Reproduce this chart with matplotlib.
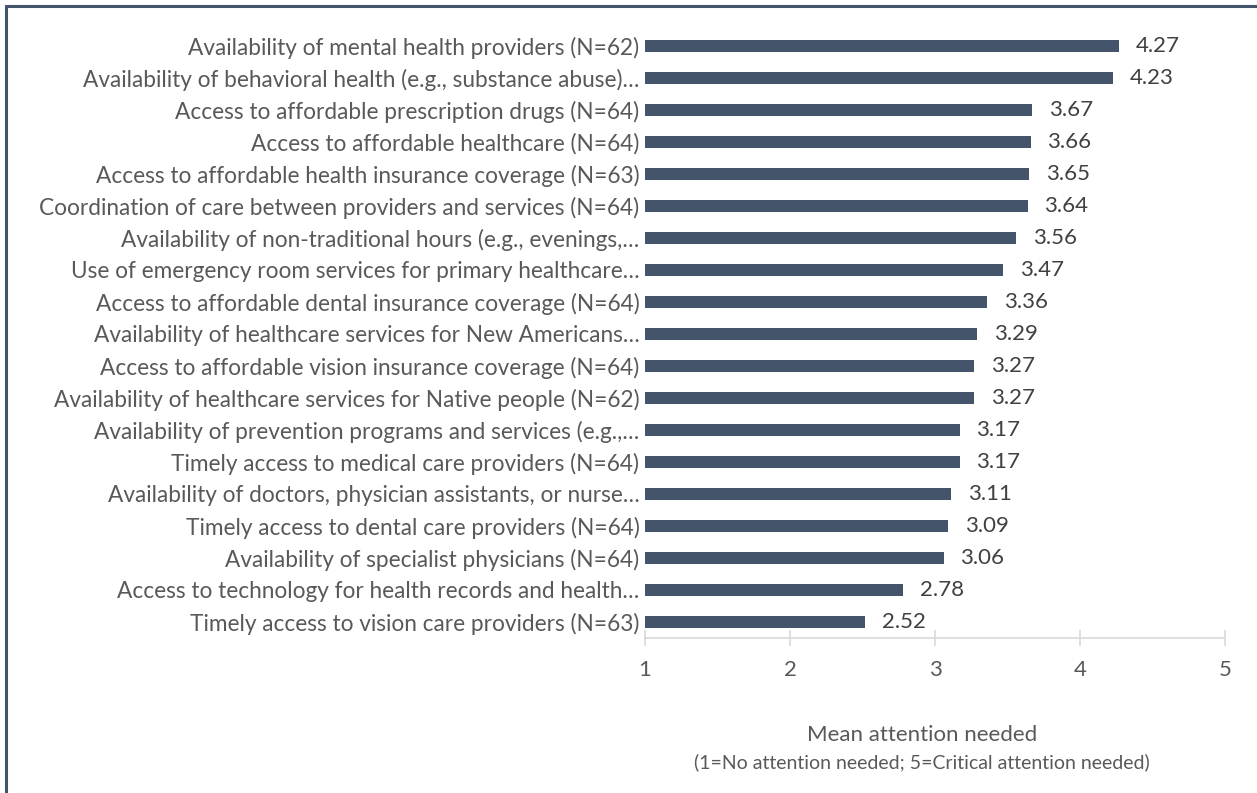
import matplotlib
matplotlib.use("Agg")
import matplotlib.pyplot as plt
from matplotlib.patches import Rectangle

categories = [
    "Availability of mental health providers (N=62)",
    "Availability of behavioral health (e.g., substance abuse)\u2026",
    "Access to affordable prescription drugs (N=64)",
    "Access to affordable healthcare (N=64)",
    "Access to affordable health insurance coverage (N=63)",
    "Coordination of care between providers and services (N=64)",
    "Availability of non-traditional hours (e.g., evenings,\u2026",
    "Use of emergency room services for primary healthcare\u2026",
    "Access to affordable dental insurance coverage (N=64)",
    "Availability of healthcare services for New Americans\u2026",
    "Access to affordable vision insurance coverage (N=64)",
    "Availability of healthcare services for Native people (N=62)",
    "Availability of prevention programs and services (e.g.,\u2026",
    "Timely access to medical care providers (N=64)",
    "Availability of doctors, physician assistants, or nurse\u2026",
    "Timely access to dental care providers (N=64)",
    "Availability of specialist physicians (N=64)",
    "Access to technology for health records and health\u2026",
    "Timely access to vision care providers (N=63)",
]
values = [4.27, 4.23, 3.67, 3.66, 3.65, 3.64, 3.56, 3.47, 3.36, 3.29,
          3.27, 3.27, 3.17, 3.17, 3.11, 3.09, 3.06, 2.78, 2.52]
x_ticks = [1, 2, 3, 4, 5]
x_title = "Mean attention needed"
x_subtitle = "(1=No attention needed; 5=Critical attention needed)"

plt.rcParams['font.family'] = ['Lato', 'DejaVu Sans']

W, H = 1257, 793
fig = plt.figure(figsize=(W / 100, H / 100), dpi=100)
ax = fig.add_axes([645 / W, 1 - 638 / H, (1225 - 645) / W, (638 - 30) / H])

bar_color = "#44546A"
label_color = "#595959"
val_color = "#404040"

ypos = list(range(len(categories)))
ax.barh(ypos, [v - x_ticks[0] for v in values], left=x_ticks[0],
        height=0.38, color=bar_color)
for y, v in zip(ypos, values):
    ax.annotate(f"{v:.2f}", xy=(v, y), xytext=(12, 0), textcoords="offset points",
                ha="left", va="center", fontsize=16, color=val_color)

ax.set_ylim(len(categories) - 0.5, -0.5)
ax.set_xlim(x_ticks[0], x_ticks[-1])
ax.set_yticks(ypos)
ax.set_yticklabels(categories, fontsize=16.3, color=label_color)
ax.set_xticks(x_ticks)
ax.set_xticklabels([str(t) for t in x_ticks], fontsize=16, color=label_color)
ax.tick_params(axis="y", length=0, pad=4)
ax.tick_params(axis="x", direction="inout", length=11, width=1.2,
               color="#D9D9D9", pad=10)
for s in ["top", "right", "left"]:
    ax.spines[s].set_visible(False)
ax.spines["bottom"].set_color("#D9D9D9")
ax.spines["bottom"].set_linewidth(1.2)

fig.text(922 / W, 1 - 735 / H, x_title, ha="center", va="center",
         fontsize=16, color=label_color)
fig.text(922 / W, 1 - 762 / H, x_subtitle, ha="center", va="center",
         fontsize=14, color=label_color)

border = Rectangle((5.5 / W, -0.2), 1.3, (H - 5.5) / H + 0.2,
                   transform=fig.transFigure, fill=False,
                   edgecolor="#44546A", linewidth=2.2, clip_on=False)
fig.patches.append(border)

fig.savefig("out.png", dpi=100)
